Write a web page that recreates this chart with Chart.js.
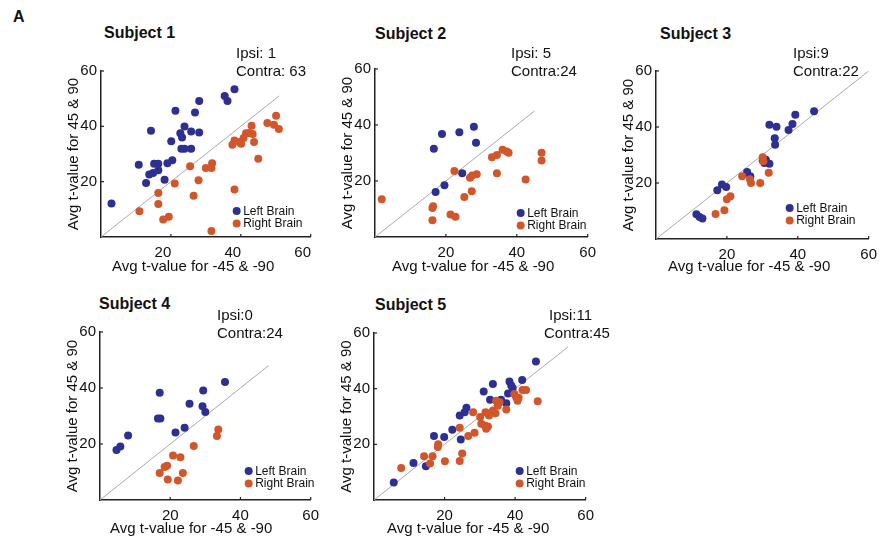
<!DOCTYPE html>
<html>
<head>
<meta charset="utf-8">
<script src="https://cdn.jsdelivr.net/npm/chart.js@4.4.0/dist/chart.umd.min.js"></script>
<style>
  body { margin: 0; background: #fff; width: 883px; height: 544px; position: relative; overflow: hidden;
         font-family: "Liberation Sans", Arial, Helvetica, sans-serif; color: #111; }
  canvas { position: absolute; }
  .t { position: absolute; white-space: nowrap; }
  .title { font-weight: bold; font-size: 16px; line-height: 16px; }
  .note { font-size: 15px; line-height: 18px; }
  .xl { font-size: 15px; line-height: 18px; }
</style>
</head>
<body>
<div class="t title" style="left:13px;top:9px">A</div>

<div class="t title" style="left:104px;top:25px">Subject 1</div>
<div class="t title" style="left:375px;top:26px">Subject 2</div>
<div class="t title" style="left:660px;top:26px">Subject 3</div>
<div class="t title" style="left:99px;top:296px">Subject 4</div>
<div class="t title" style="left:375px;top:297px">Subject 5</div>

<div class="t note" style="left:236px;top:44px">Ipsi: 1<br>Contra: 63</div>
<div class="t note" style="left:511px;top:44px">Ipsi: 5<br>Contra:24</div>
<div class="t note" style="left:793px;top:44px">Ipsi:9<br>Contra:22</div>
<div class="t note" style="left:217px;top:306px">Ipsi:0<br>Contra:24</div>
<div class="t note" style="left:549px;top:306px">Ipsi:11</div>
<div class="t note" style="left:544px;top:324px">Contra:45</div>

<div class="t xl" style="left:112px;top:257px">Avg t-value for -45 &amp; -90</div>
<div class="t xl" style="left:392px;top:257px">Avg t-value for -45 &amp; -90</div>
<div class="t xl" style="left:668px;top:257px">Avg t-value for -45 &amp; -90</div>
<div class="t xl" style="left:110px;top:519px">Avg t-value for -45 &amp; -90</div>
<div class="t xl" style="left:387px;top:519px">Avg t-value for -45 &amp; -90</div>

<script>
// tick labels on both axes
const tickVals = [20, 40, 60];
// where the grey identity line stops in each panel
const diagEnd = [51, 45, 60, 48, 55];
const legendNames = ["Left Brain", "Right Brain"];

// Subject 1
const s1LeftX  = [3.0, 10.8, 14.3, 12.9, 13.8, 14.9, 15.2, 16.4, 16.4, 18.2, 19.0, 20.4, 20.1, 21.3, 22.7, 23.0, 23.2, 23.9, 23.9, 25.8, 25.8, 26.9, 28.1, 28.1, 35.4, 36.2, 38.2];
const s1LeftY  = [12.1, 26.1, 38.4, 19.5, 22.6, 23.1, 26.5, 26.5, 24.1, 20.7, 26.7, 27.7, 34.6, 45.6, 37.5, 31.9, 36.0, 39.9, 31.9, 38.1, 31.9, 45.0, 49.2, 37.8, 51.0, 49.2, 53.4];
const s1RightX = [11.0, 16.4, 16.4, 17.8, 19.4, 21.1, 25.5, 26.5, 27.9, 30.0, 31.6, 31.8, 31.6, 38.2, 37.6, 38.2, 39.6, 40.1, 40.8, 41.5, 42.4, 43.1, 43.4, 43.8, 45.0, 47.6, 49.5, 50.1, 50.9];
const s1RightY = [9.3, 15.9, 11.9, 6.3, 7.3, 19.3, 25.6, 14.9, 20.5, 24.9, 24.9, 26.7, 2.2, 17.2, 33.3, 34.9, 34.3, 33.7, 35.8, 37.5, 37.6, 40.2, 37.2, 34.3, 28.3, 41.2, 40.6, 43.8, 39.0];

// Subject 2
const s2LeftX  = [16.6, 18.9, 23.8, 27.9, 28.5, 24.6, 19.6, 17.1];
const s2LeftY  = [31.5, 36.8, 37.4, 39.4, 33.7, 22.8, 18.5, 16.1];
const s2RightX = [1.9, 16.2, 16.4, 16.2, 21.3, 22.7, 22.4, 25.2, 26.8, 27.4, 27.3, 28.7, 33.0, 34.4, 36.0, 37.2, 37.7, 34.4, 42.5, 47.0, 47.0];
const s2RightY = [13.5, 10.4, 11.0, 6.0, 8.0, 7.2, 23.6, 14.3, 21.2, 22.0, 16.3, 22.4, 28.5, 29.3, 31.2, 30.5, 30.1, 22.8, 20.5, 30.1, 27.3];

// Subject 3
const s3LeftX  = [11.4, 12.3, 13.1, 17.3, 18.6, 19.8, 25.7, 26.6, 30.1, 31.0, 30.6, 32.0, 32.0, 34.0, 33.5, 33.6, 37.4, 38.5, 39.3, 44.6];
const s3LeftY  = [8.8, 7.9, 7.3, 17.4, 19.5, 18.6, 23.9, 22.4, 28.0, 28.3, 27.1, 26.9, 40.8, 40.1, 36.0, 33.7, 38.9, 41.1, 44.4, 45.6];
const s3RightX = [16.8, 19.3, 20.0, 21.0, 24.3, 26.5, 26.8, 29.4, 30.1, 30.3, 31.8];
const s3RightY = [8.9, 10.3, 14.2, 15.3, 22.4, 21.3, 20.0, 20.0, 29.2, 27.8, 23.7];

// Subject 4
const s4LeftX  = [4.7, 5.8, 8.0, 16.5, 17.2, 17.0, 21.5, 24.1, 25.5, 29.2, 29.4, 30.0, 35.6];
const s4LeftY  = [17.9, 19.1, 23.0, 29.1, 29.1, 38.3, 24.1, 25.8, 34.4, 33.5, 39.1, 31.4, 42.1];
const s4RightX = [17.0, 18.4, 19.1, 19.3, 20.8, 22.9, 22.2, 23.6, 26.7, 33.3, 33.7];
const s4RightY = [9.6, 11.8, 12.2, 7.3, 15.9, 15.3, 7.0, 9.6, 19.3, 22.9, 25.2];

// Subject 5
const s5LeftX  = [5.6, 11.2, 14.7, 17.0, 19.9, 22.2, 24.6, 24.3, 25.7, 26.2, 31.1, 33.7, 32.9, 36.0, 37.5, 38.0, 38.4, 38.9, 39.3, 42.0, 45.9];
const s5LeftY  = [6.3, 13.3, 12.1, 23.0, 22.6, 25.2, 21.7, 30.4, 31.5, 33.1, 39.0, 41.7, 36.0, 36.0, 34.8, 38.3, 42.6, 41.1, 40.2, 43.1, 49.8];
const s5RightX = [7.7, 14.2, 15.9, 16.6, 18.1, 18.2, 20.1, 24.3, 24.3, 25.0, 26.7, 28.5, 28.1, 30.1, 30.4, 31.4, 31.6, 31.8, 32.3, 32.6, 33.7, 34.4, 34.6, 35.1, 35.6, 37.5, 39.8, 40.3, 40.7, 41.0, 42.1, 43.1, 46.4];
const s5RightY = [11.5, 15.7, 13.1, 15.7, 19.0, 20.0, 13.9, 26.0, 14.0, 16.7, 23.0, 24.2, 31.5, 29.8, 27.4, 26.8, 31.5, 25.6, 26.4, 30.4, 32.1, 31.2, 35.7, 33.9, 35.1, 32.5, 38.1, 36.9, 35.7, 36.7, 39.5, 39.5, 35.5];

const leftX  = [s1LeftX, s2LeftX, s3LeftX, s4LeftX, s5LeftX];
const leftY  = [s1LeftY, s2LeftY, s3LeftY, s4LeftY, s5LeftY];
const rightX = [s1RightX, s2RightX, s3RightX, s4RightX, s5RightX];
const rightY = [s1RightY, s2RightY, s3RightY, s4RightY, s5RightY];

const BLUE = "#2d2f93";
const ORANGE = "#d3562b";
const FONT = "'Liberation Sans', Arial, Helvetica, sans-serif";

// plot boxes in page pixels (left, top, right, bottom), legend offset from bottom-right corner,
// and a sideways nudge of the x tick labels (subject 1 has them shifted left)
const panels = [
  { L: 101, T: 70,  R: 312, B: 237, legDx: 74, legDy: 26, xLabelShift: -8 },
  { L: 375, T: 68,  R: 589, B: 237, legDx: 67, legDy: 24, xLabelShift: 0 },
  { L: 656, T: 70,  R: 870, B: 239, legDx: 79, legDy: 31, xLabelShift: 0 },
  { L: 100, T: 331, R: 312, B: 500, legDx: 62, legDy: 29, xLabelShift: 0 },
  { L: 374, T: 332, R: 587, B: 500, legDx: 66, legDy: 29, xLabelShift: 0 }
];
const YW = 36, XH = 30, PAD_T = 12, PAD_R = 14;

function pts(xs, ys) {
  return xs.map((x, i) => ({ x: x, y: ys[i] }));
}

// inward tick marks + the little legend in the lower right
const decor = {
  id: "decor",
  afterDraw(chart, args, opts) {
    const ctx = chart.ctx;
    const xs = chart.scales.x, ys = chart.scales.y;
    const a = chart.chartArea;
    ctx.save();
    ctx.strokeStyle = "#222";
    ctx.lineWidth = 1.2;
    tickVals.forEach(v => {
      const px = xs.getPixelForValue(v);
      ctx.beginPath(); ctx.moveTo(px, a.bottom); ctx.lineTo(px, a.bottom - 3); ctx.stroke();
      const py = ys.getPixelForValue(v);
      ctx.beginPath(); ctx.moveTo(a.left, py); ctx.lineTo(a.left + 3, py); ctx.stroke();
    });
    const cols = [BLUE, ORANGE];
    ctx.font = "12px " + FONT;
    ctx.textBaseline = "middle";
    ctx.textAlign = "left";
    legendNames.forEach((name, i) => {
      const cx = a.right - opts.dx;
      const cy = a.bottom - opts.dy + i * 12.5;
      ctx.fillStyle = cols[i];
      ctx.beginPath(); ctx.arc(cx, cy, 4, 0, Math.PI * 2); ctx.fill();
      ctx.fillStyle = "#111";
      ctx.fillText(name, cx + 6.5, cy + 0.5);
    });
    ctx.restore();
  }
};

panels.forEach((p, k) => {
  const cv = document.createElement("canvas");
  const w = YW + (p.R - p.L) + PAD_R;
  const h = PAD_T + (p.B - p.T) + XH;
  cv.width = w; cv.height = h;
  cv.style.left = (p.L - YW) + "px";
  cv.style.top = (p.T - PAD_T) + "px";
  cv.style.width = w + "px"; cv.style.height = h + "px";
  document.body.insertBefore(cv, document.body.firstChild);

  new Chart(cv.getContext("2d"), {
    type: "scatter",
    data: {
      datasets: [
        { label: "Right Brain", data: pts(rightX[k], rightY[k]), backgroundColor: ORANGE,
          pointRadius: 4, pointBorderWidth: 0, pointHoverRadius: 4 },
        { label: "Left Brain", data: pts(leftX[k], leftY[k]), backgroundColor: BLUE,
          pointRadius: 4, pointBorderWidth: 0, pointHoverRadius: 4 },
        { type: "line", label: "unity", data: [{ x: 0, y: 0 }, { x: diagEnd[k], y: diagEnd[k] }],
          borderColor: "#a9a9a9", borderWidth: 1, pointRadius: 0, fill: false }
      ]
    },
    options: {
      responsive: false,
      animation: false,
      devicePixelRatio: 1,
      layout: { padding: { left: 0, top: PAD_T, right: PAD_R, bottom: 0 } },
      plugins: {
        legend: { display: false },
        tooltip: { enabled: false },
        decor: { dx: p.legDx, dy: p.legDy }
      },
      scales: {
        x: {
          type: "linear", min: 0, max: 60,
          afterBuildTicks: s => { s.ticks = tickVals.map(v => ({ value: v })); },
          afterFit: s => { s.height = XH; },
          grid: { display: false, drawTicks: false },
          border: { display: true, color: "#222", width: 1.5 },
          ticks: { color: "#111", padding: 7, maxRotation: 0, labelOffset: p.xLabelShift,
                   font: { size: 15, family: FONT } }
        },
        y: {
          type: "linear", min: 0, max: 60,
          afterBuildTicks: s => { s.ticks = tickVals.map(v => ({ value: v })); },
          afterFit: s => { s.width = YW; },
          grid: { display: false, drawTicks: false },
          border: { display: true, color: "#222", width: 1.5 },
          ticks: { color: "#111", padding: 4, font: { size: 15, family: FONT } },
          title: { display: true, text: "Avg t-value for 45 & 90", color: "#111", padding: 0,
                   font: { size: 15, family: FONT } }
        }
      }
    },
    plugins: [decor]
  });
});
</script>
</body>
</html>
